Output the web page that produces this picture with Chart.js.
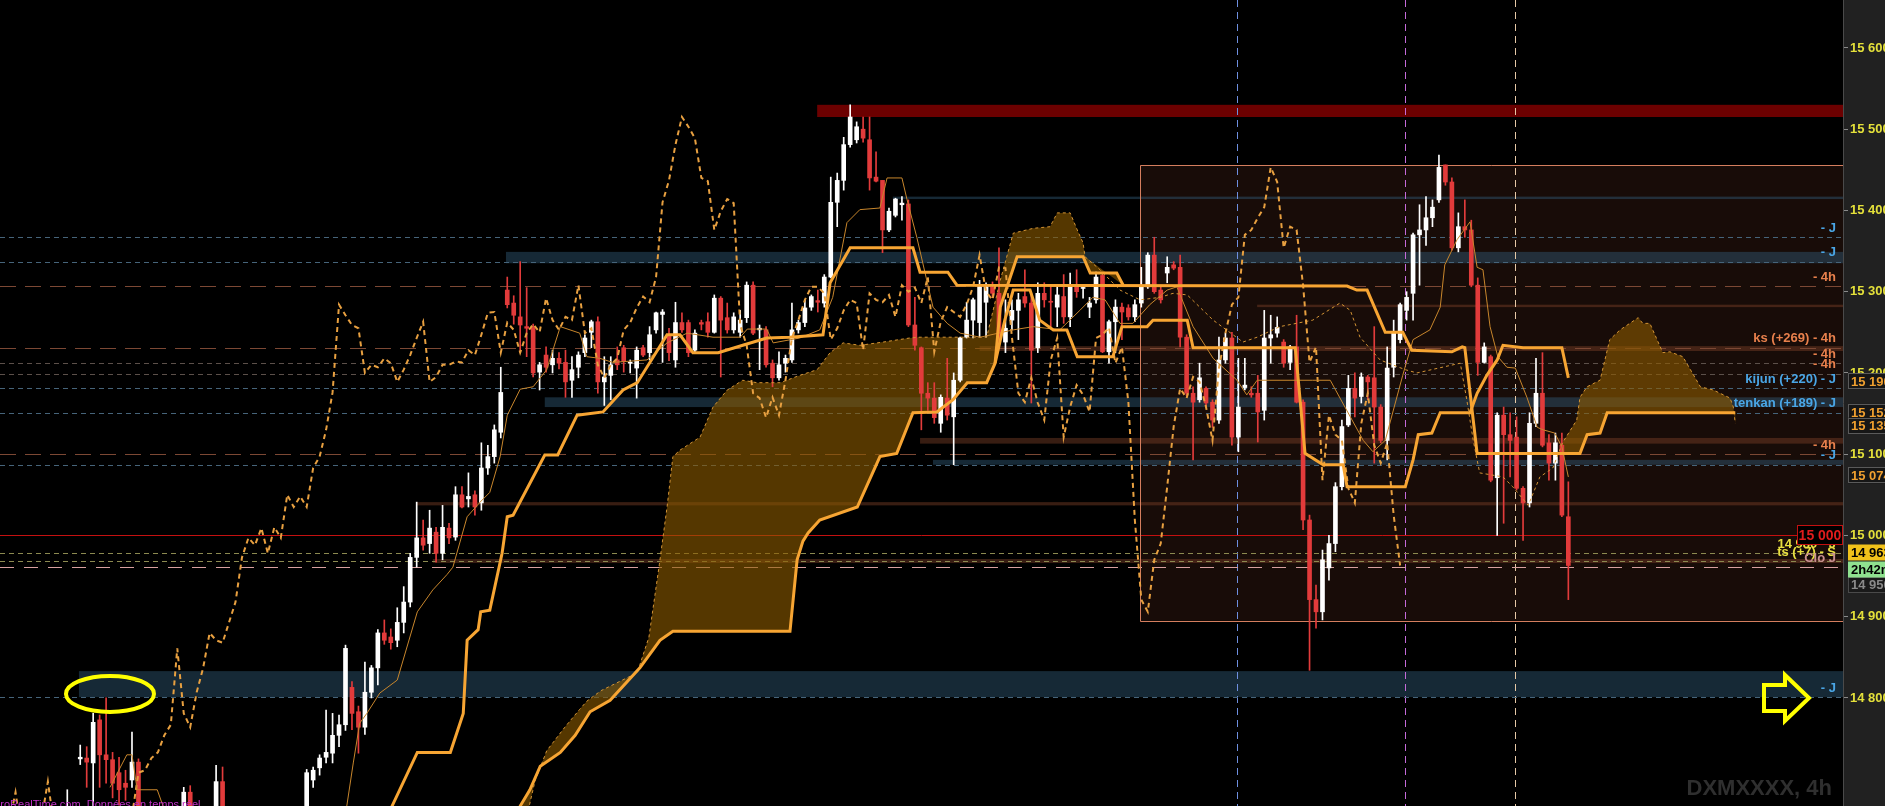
<!DOCTYPE html>
<html>
<head>
<meta charset="utf-8">
<title>DXMXXXX, 4h</title>
<script src="https://cdn.jsdelivr.net/npm/chart.js@4.4.1/dist/chart.umd.min.js"></script>
<style>
    html, body { margin: 0; padding: 0; background: #000; overflow: hidden; }
    #wrap { width: 1885px; height: 806px; }
</style>
</head>
<body>
<div id="wrap"><canvas id="chart" width="1885" height="806"></canvas></div>
<script>
// 4h candles, oldest first
const opens = [
    14620, 14630, 14645, 14625, 14640, 14655, 14640, 14650, 14662, 14725,
    14726, 14720, 14773, 14730, 14724, 14708, 14695, 14699, 14721, 14650,
    14620, 14600, 14625, 14640, 14630, 14645, 14684, 14630, 14610, 14635,
    14650, 14697, 14640, 14610, 14590, 14570, 14590, 14580, 14565, 14585,
    14600, 14615, 14630, 14645, 14655, 14699, 14714, 14727, 14732, 14754,
    14767, 14813, 14783, 14764, 14807, 14837, 14880, 14875, 14871, 14893,
    14918, 14973, 14997, 14990, 15004, 14978, 15009, 14998, 15050, 15045,
    15050, 15040, 15083, 15097, 15127, 15302, 15286, 15269, 15257, 15256,
    15201, 15222, 15210, 15218, 15213, 15191, 15207, 15225, 15250, 15263,
    15189, 15197, 15216, 15231, 15212, 15206, 15231, 15225, 15253, 15272,
    15245, 15216, 15262, 15262, 15228, 15262, 15263, 15250, 15292, 15268,
    15253, 15250, 15268, 15308, 15253, 15253, 15212, 15194, 15212, 15216,
    15253, 15262, 15281, 15289, 15286, 15318, 15410, 15437, 15481, 15487,
    15500, 15487, 15441, 15437, 15376, 15394, 15407, 15408, 15259, 15231,
    15175, 15169, 15138, 15169, 15146, 15191, 15244, 15265, 15262, 15287,
    15306, 15298, 15238, 15265, 15277, 15294, 15286, 15231, 15298, 15288,
    15281, 15294, 15269, 15308, 15304, 15281, 15290, 15320, 15226, 15263,
    15281, 15280, 15269, 15286, 15306, 15345, 15302, 15323, 15333, 15330,
    15244, 15175, 15167, 15181, 15164, 15142, 15216, 15243, 15121, 15182,
    15175, 15175, 15154, 15243, 15249, 15238, 15213, 15232, 15164, 15019,
    14921, 14906, 14960, 14990, 15060, 15136, 15181, 15171, 15195, 15194,
    15158, 15117, 15207, 15241, 15277, 15298, 15370, 15376, 15391, 15413,
    15456, 15435, 15354, 15380, 15376, 15308, 15213, 15220, 15071, 15148,
    15124, 15121, 15058, 15040, 15138, 15175, 15114, 15089, 15111, 15023
];
const highs = [
    14640, 14655, 14660, 14650, 14662, 14665, 14660, 14687, 14664, 14742,
    14740, 14781, 14779, 14800, 14733, 14727, 14711, 14758, 14725, 14662,
    14640, 14630, 14650, 14660, 14655, 14690, 14692, 14650, 14640, 14660,
    14717, 14715, 14655, 14630, 14610, 14600, 14615, 14600, 14590, 14610,
    14625, 14640, 14655, 14662, 14712, 14715, 14730, 14785, 14781, 14779,
    14865, 14820, 14790, 14844, 14840, 14884, 14896, 14885, 14911, 14937,
    14978, 15041, 15019, 15031, 15010, 15037, 15015, 15060, 15060, 15077,
    15055, 15114, 15111, 15136, 15207, 15318, 15295, 15337, 15305, 15260,
    15213, 15232, 15228, 15225, 15228, 15220, 15226, 15247, 15265, 15269,
    15220, 15220, 15232, 15234, 15216, 15232, 15234, 15257, 15275, 15278,
    15255, 15287, 15274, 15265, 15253, 15265, 15274, 15296, 15294, 15286,
    15274, 15277, 15312, 15312, 15259, 15257, 15216, 15226, 15222, 15286,
    15265, 15290, 15296, 15302, 15321, 15441, 15446, 15490, 15530, 15509,
    15515, 15515, 15472, 15437, 15403, 15415, 15417, 15413, 15293, 15232,
    15188, 15188, 15173, 15218, 15200, 15244, 15287, 15292, 15314, 15311,
    15312, 15354, 15290, 15290, 15298, 15327, 15298, 15311, 15311, 15306,
    15306, 15321, 15323, 15327, 15308, 15293, 15324, 15324, 15265, 15290,
    15286, 15284, 15290, 15330, 15348, 15367, 15306, 15343, 15337, 15345,
    15247, 15183, 15212, 15183, 15167, 15244, 15249, 15250, 15218, 15218,
    15183, 15197, 15277, 15271, 15269, 15241, 15234, 15271, 15167, 15025,
    14939, 14982, 15000, 15065, 15142, 15197, 15200, 15200, 15197, 15257,
    15161, 15232, 15265, 15286, 15300, 15372, 15407, 15417, 15413, 15468,
    15456, 15440, 15397, 15413, 15388, 15317, 15237, 15222, 15151, 15158,
    15151, 15146, 15060, 15151, 15218, 15225, 15124, 15126, 15126, 15066
];
const lows = [
    14600, 14615, 14620, 14605, 14628, 14630, 14625, 14640, 14640, 14718,
    14690, 14650, 14690, 14695, 14677, 14668, 14674, 14690, 14620, 14610,
    14590, 14580, 14610, 14620, 14615, 14635, 14620, 14600, 14595, 14625,
    14645, 14630, 14600, 14580, 14560, 14550, 14570, 14555, 14550, 14570,
    14585, 14600, 14615, 14630, 14650, 14690, 14705, 14720, 14720, 14740,
    14760, 14761, 14732, 14755, 14800, 14816, 14866, 14860, 14863, 14880,
    14912, 14961, 14982, 14978, 14967, 14970, 14990, 14994, 15034, 15035,
    15025, 15031, 15075, 15089, 15120, 15280, 15260, 15225, 15220, 15195,
    15179, 15201, 15200, 15205, 15170, 15170, 15194, 15220, 15231, 15175,
    15160, 15167, 15204, 15201, 15200, 15169, 15220, 15216, 15249, 15213,
    15215, 15207, 15250, 15220, 15225, 15253, 15244, 15249, 15195, 15249,
    15249, 15244, 15262, 15247, 15204, 15207, 15183, 15191, 15201, 15213,
    15249, 15257, 15277, 15275, 15281, 15317, 15380, 15425, 15478, 15483,
    15484, 15425, 15435, 15348, 15374, 15392, 15388, 15257, 15228, 15130,
    15154, 15138, 15127, 15142, 15087, 15189, 15243, 15243, 15244, 15244,
    15293, 15237, 15225, 15253, 15241, 15281, 15163, 15225, 15281, 15257,
    15257, 15261, 15257, 15293, 15292, 15268, 15286, 15225, 15212, 15225,
    15241, 15265, 15263, 15281, 15304, 15298, 15286, 15311, 15327, 15232,
    15172, 15093, 15164, 15158, 15133, 15138, 15212, 15111, 15103, 15179,
    15170, 15115, 15142, 15212, 15244, 15207, 15204, 15163, 15007, 14834,
    14886, 14896, 14945, 14980, 15056, 15134, 15146, 15163, 15167, 15089,
    15114, 15093, 15195, 15237, 15265, 15265, 15308, 15357, 15380, 15410,
    15431, 15351, 15349, 15367, 15306, 15197, 15212, 15066, 15000, 15015,
    15072, 15056, 14994, 15035, 15134, 15109, 15068, 15068, 15023, 14921
];
const closes = [
    14630, 14645, 14625, 14640, 14655, 14640, 14650, 14662, 14648, 14727,
    14721, 14770, 14730, 14724, 14695, 14687, 14690, 14721, 14650, 14620,
    14600, 14625, 14640, 14630, 14645, 14684, 14630, 14610, 14635, 14650,
    14697, 14640, 14610, 14590, 14570, 14590, 14580, 14565, 14585, 14600,
    14615, 14630, 14645, 14655, 14708, 14711, 14726, 14733, 14754, 14767,
    14861, 14781, 14764, 14807, 14837, 14880, 14871, 14868, 14893, 14918,
    14973, 14997, 14988, 15009, 14978, 15010, 14997, 15050, 15035, 15048,
    15035, 15083, 15097, 15130, 15176, 15284, 15271, 15259, 15255, 15200,
    15210, 15207, 15218, 15212, 15189, 15204, 15222, 15243, 15263, 15189,
    15195, 15210, 15210, 15214, 15213, 15228, 15222, 15247, 15274, 15275,
    15225, 15262, 15253, 15225, 15249, 15260, 15250, 15292, 15265, 15253,
    15269, 15265, 15308, 15249, 15255, 15210, 15194, 15210, 15218, 15253,
    15262, 15280, 15294, 15287, 15318, 15410, 15437, 15481, 15515, 15503,
    15489, 15440, 15436, 15376, 15399, 15414, 15409, 15259, 15234, 15175,
    15169, 15145, 15170, 15148, 15191, 15243, 15265, 15290, 15306, 15306,
    15298, 15241, 15255, 15277, 15290, 15286, 15228, 15298, 15290, 15287,
    15296, 15269, 15308, 15300, 15305, 15286, 15318, 15226, 15263, 15281,
    15275, 15269, 15284, 15306, 15345, 15300, 15290, 15330, 15329, 15244,
    15175, 15164, 15194, 15163, 15142, 15216, 15243, 15121, 15158, 15185,
    15173, 15152, 15243, 15247, 15256, 15212, 15232, 15164, 15019, 14921,
    14906, 14970, 14990, 15060, 15134, 15181, 15169, 15195, 15189, 15158,
    15117, 15206, 15249, 15284, 15293, 15370, 15376, 15391, 15404, 15453,
    15435, 15354, 15380, 15376, 15308, 15213, 15232, 15068, 15148, 15124,
    15117, 15058, 15040, 15138, 15175, 15111, 15089, 15114, 15025, 14963
];

// indicator lines as [bar, price] vertices
const tenkan = [
    [13.6, 14690], [16.2, 14730], [17.0, 14730], [17.8, 14687], [20.9, 14687], [21.8, 14667],
    [27.5, 14620], [43.0, 14610], [50.2, 14667], [51.2, 14720], [52.2, 14769], [53.3, 14781],
    [55.3, 14806], [58.0, 14822], [61.1, 14906], [63.5, 14933], [65.7, 14952], [66.6, 14961],
    [68.8, 15023], [70.8, 15041], [72.3, 15053], [73.9, 15097], [75.0, 15148], [77.0, 15180],
    [79.0, 15183], [81.1, 15204], [83.2, 15257], [84.7, 15253], [86.2, 15249], [87.3, 15220],
    [89.3, 15218], [91.3, 15213], [96.6, 15216], [99.7, 15237], [102.8, 15249], [106.8, 15244],
    [111.0, 15244], [112.1, 15254], [115.1, 15254], [116.1, 15237], [120.2, 15243], [123.3, 15253],
    [125.3, 15293], [127.5, 15385], [129.5, 15401], [132.6, 15403], [133.7, 15440], [136.0, 15440],
    [136.8, 15413], [138.3, 15367], [140.8, 15281], [143.0, 15261], [145.0, 15249], [148.1, 15244],
    [153.2, 15253], [156.3, 15257], [160.4, 15253], [163.5, 15277], [165.5, 15293], [167.4, 15290],
    [169.7, 15261], [171.7, 15261], [174.3, 15284], [177.0, 15302], [178.5, 15306], [181.0, 15257],
    [184.1, 15218], [187.8, 15191], [189.3, 15173], [190.9, 15191], [199.5, 15191], [202.2, 15191],
    [207.3, 15117], [208.8, 15103], [210.7, 15117], [213.4, 15197], [215.0, 15241], [217.6, 15253],
    [219.2, 15281], [219.9, 15333], [221.8, 15364], [223.8, 15386], [224.9, 15330], [225.8, 15327],
    [226.9, 15257], [228.1, 15220], [229.5, 15207], [230.8, 15206], [232.6, 15170], [234.2, 15133],
    [235.1, 15130], [236.9, 15126], [238.0, 15109], [239.0, 15072]
];
const kijun = [
    [75.4, 14620], [77.0, 14667], [78.5, 14687], [80.1, 14716], [83.2, 14733], [85.5, 14754],
    [87.8, 14783], [90.9, 14797], [95.5, 14837], [98.6, 14871], [100.6, 14882], [118.7, 14882],
    [119.8, 14970], [120.7, 14993], [121.5, 15003], [123.3, 15019], [129.1, 15035], [132.6, 15097],
    [135.2, 15101], [137.7, 15151], [141.4, 15152], [143.9, 15167], [146.1, 15188], [149.1, 15188],
    [150.4, 15212], [151.9, 15265], [153.2, 15302], [155.8, 15302], [157.3, 15265], [159.4, 15253],
    [161.5, 15253], [163.1, 15220], [168.6, 15220], [170.0, 15257], [173.9, 15257], [174.8, 15265],
    [180.1, 15265], [181.0, 15231], [196.8, 15231], [198.3, 15101], [201.1, 15087], [204.2, 15087],
    [204.8, 15060], [213.8, 15060], [215.0, 15093], [215.8, 15124], [217.9, 15126], [219.2, 15151],
    [223.8, 15151], [224.9, 15175], [226.4, 15197], [228.0, 15216], [228.9, 15234], [232.0, 15231],
    [238.0, 15231], [239.0, 15194]
];
const kijunLead = [
    [150.4, 15212], [151.2, 15281], [153.8, 15343], [164.0, 15343], [165.1, 15323], [169.2, 15323],
    [170.2, 15308]
];
const senkouB = [
    [55.3, 14630], [57.2, 14667], [61.1, 14733], [66.2, 14733], [68.2, 14781], [68.8, 14871],
    [70.5, 14884], [70.9, 14906], [72.3, 14908], [74.2, 14978], [75.0, 15023], [75.9, 15025],
    [80.8, 15099], [82.8, 15099], [85.8, 15148], [89.8, 15152], [92.9, 15179], [95.1, 15188],
    [99.7, 15247], [101.7, 15247], [103.7, 15225], [107.6, 15225], [111.4, 15234], [115.1, 15243],
    [118.7, 15244], [123.8, 15247], [124.9, 15311], [128.0, 15354], [137.7, 15354], [138.8, 15324],
    [143.1, 15324], [144.5, 15308], [204.8, 15307], [206.3, 15302], [207.9, 15302], [210.7, 15250],
    [213.4, 15250], [214.8, 15228], [221.0, 15226], [222.6, 15232], [223.0, 15231], [224.9, 15101],
    [240.8, 15101], [241.9, 15124], [243.9, 15126], [245.0, 15151], [264.8, 15151]
];
const spanA = [
    [76.2, 14620], [78.4, 14667], [79.3, 14698], [81.1, 14735], [83.9, 14764], [86.2, 14786],
    [87.3, 14796], [89.5, 14809], [95.1, 14831], [96.9, 14875], [98.5, 14964], [99.7, 15035],
    [100.6, 15097], [101.7, 15105], [104.8, 15121], [106.8, 15158], [109.0, 15179], [111.4, 15191],
    [113.6, 15188], [117.2, 15188], [120.2, 15197], [122.9, 15204], [124.9, 15225], [126.9, 15237],
    [129.5, 15234], [133.1, 15238], [137.2, 15243], [138.8, 15244], [149.1, 15244], [151.2, 15314],
    [153.2, 15372], [156.3, 15378], [158.9, 15380], [160.0, 15397], [162.0, 15397], [163.1, 15376],
    [164.0, 15360], [164.3, 15343], [166.6, 15327], [169.7, 15302], [172.8, 15290], [175.9, 15293],
    [177.9, 15298], [180.1, 15296], [184.1, 15265], [188.7, 15238], [190.9, 15244], [194.4, 15257],
    [199.5, 15265], [203.7, 15286], [205.3, 15277], [206.8, 15244], [209.9, 15216], [213.8, 15204],
    [215.6, 15200], [222.3, 15212], [223.3, 15167], [224.3, 15117], [225.3, 15077], [228.9, 15072],
    [230.4, 15060], [232.8, 15037], [234.6, 15072], [236.6, 15083], [238.1, 15114], [240.3, 15142],
    [240.8, 15170], [241.9, 15183], [243.9, 15191], [245.4, 15241], [247.0, 15253], [249.8, 15268],
    [250.5, 15261], [251.6, 15261], [253.6, 15225], [254.7, 15226], [256.7, 15220], [259.4, 15183],
    [261.4, 15179], [264.0, 15169], [264.5, 15158], [264.8, 15138]
];
const CHIKOU_SHIFT = 26;

// price axis
const tickValues = [14800, 14900, 15000, 15100, 15200, 15300, 15400, 15500, 15600];

// horizontal levels drawn across the chart
const levelPrice = [15367, 15337, 15307, 15231, 15212, 15199, 15181, 15151, 15100, 15087, 14978, 14968, 14961, 14801];
const levelKind = ['J', 'J', '4h', '4h', '4hs', '4hs', 'J', 'J', '4h', 'J', 'Y', 'Y', 'C', 'J'];
const levelText = ['- J', '- J', '- 4h', 'ks (+269) - 4h', '- 4h', '- 4h', 'kijun (+220) - J',
    'tenkan (+189) - J', '- 4h', '- J', '14 980 - J', 'ts (+7) - S', 'Clo J', '- J'];

// shaded zones [low, high] starting at a bar and running to the right edge
const zoneLow = [15515, 15414, 15335, 15281, 15227, 15158, 15113, 15087, 15037, 14966, 14801];
const zoneHigh = [15530, 15417, 15349, 15284, 15233, 15170, 15120, 15093, 15041, 14971, 14833];
const zoneFrom = [122.9, 134.6, 74.8, 190.9, 148, 80.8, 138.8, 140.8, 61, 63.5, 8.8];
const zoneKind = ['red', 'teal', 'teal', 'brown', 'brown', 'teal', 'brown', 'teal', 'brown', 'brown', 'teal'];

const rangeBox = { from: 172.8, low: 14895, high: 15456 };
const roundLevel = 15000;
const sessionBreaks = [187.8, 213.8, 230.8];
const axisTags = [15190, 15152, 15135, 15074];
const circled = { bar: 13.6, price: 14805 };
const arrowPrice = 14800;

const FONT = '"Liberation Sans", Arial, sans-serif';
const fmt = v => {
    const s = String(Math.round(v));
    return s.slice(0, -3) + ' ' + s.slice(-3);
};

const zoneColors = { red: '#6c0000', teal: 'rgba(52, 98, 128, 0.42)', brown: 'rgba(125, 64, 40, 0.45)' };
const levelStyles = {
    'J':   { color: '#46647a', dash: [5, 4] },
    '4h':  { color: '#7c4834', dash: [16, 9] },
    '4hs': { color: '#5c504a', dash: [5, 4] },
    'Y':   { color: '#8c8a50', dash: [5, 4] },
    'C':   { color: '#d8a0a0', dash: [14, 10] }
};
const labelColors = { 'J': '#4aa6e6', '4h': '#e8804c', '4hs': '#e8804c', 'Y': '#e8e040', 'C': '#c89090' };

function cloudShapes() {
    const top1 = spanA.filter(p => p[0] <= 164.3);
    const low1 = kijun.filter(p => p[0] <= 150.4).concat(kijunLead);
    const top2 = spanA.filter(p => p[0] >= 238.1);
    const low2 = [[238.1, 15101]].concat(senkouB.filter(p => p[0] >= 240.8));
    return [top1.concat(low1.slice().reverse()), top2.concat(low2.slice().reverse())];
}

const backdrop = {
    id: 'backdrop',
    beforeDraw(chart) {
        const { ctx, chartArea: a, width, height } = chart;
        ctx.save();
        ctx.fillStyle = '#000';
        ctx.fillRect(0, 0, width, height);
        ctx.fillStyle = '#212121';
        ctx.fillRect(a.right, 0, width - a.right, height);
        ctx.restore();
    }
};

const underlay = {
    id: 'underlay',
    beforeDatasetsDraw(chart) {
        const { ctx, chartArea: a } = chart;
        const xs = chart.scales.x, ys = chart.scales.y;
        const crisp = v => Math.round(v) + 0.5;
        ctx.save();
        ctx.beginPath();
        ctx.rect(a.left, a.top, a.right - a.left, a.bottom - a.top);
        ctx.clip();

        // watermark
        ctx.font = 'bold 22px ' + FONT;
        ctx.fillStyle = '#2f2f2f';
        ctx.textAlign = 'right';
        ctx.textBaseline = 'alphabetic';
        ctx.fillText('DXMXXXX, 4h', a.right - 11, 795);

        // range box fill
        const bx = xs.getPixelForValue(rangeBox.from);
        const bTop = ys.getPixelForValue(rangeBox.high), bBot = ys.getPixelForValue(rangeBox.low);
        ctx.fillStyle = 'rgba(120, 62, 40, 0.2)';
        ctx.fillRect(bx, bTop, a.right - bx, bBot - bTop);

        // zones
        zoneLow.forEach((lo, i) => {
            const x0 = xs.getPixelForValue(zoneFrom[i]);
            const y0 = ys.getPixelForValue(zoneHigh[i]), y1 = ys.getPixelForValue(lo);
            ctx.fillStyle = zoneColors[zoneKind[i]];
            ctx.fillRect(x0, y0, a.right - x0, Math.max(2, y1 - y0));
        });

        // session separators
        const sepColors = ['#6f8fe0', '#c46ad8', '#e6c8a6'];
        ctx.lineWidth = 1;
        sessionBreaks.forEach((b, i) => {
            const x = crisp(xs.getPixelForValue(b));
            ctx.strokeStyle = sepColors[i];
            ctx.setLineDash([7, 5]);
            ctx.beginPath();
            ctx.moveTo(x, a.top);
            ctx.lineTo(x, a.bottom);
            ctx.stroke();
        });

        // levels
        levelPrice.forEach((p, i) => {
            const st = levelStyles[levelKind[i]];
            const y = crisp(ys.getPixelForValue(p));
            ctx.strokeStyle = st.color;
            ctx.setLineDash(st.dash);
            ctx.beginPath();
            ctx.moveTo(a.left, y);
            ctx.lineTo(a.right, y);
            ctx.stroke();
        });
        ctx.setLineDash([]);
        const ry = crisp(ys.getPixelForValue(roundLevel));
        ctx.strokeStyle = '#c41010';
        ctx.beginPath();
        ctx.moveTo(a.left, ry);
        ctx.lineTo(a.right, ry);
        ctx.stroke();

        // range box outline
        ctx.strokeStyle = '#d47e5e';
        ctx.beginPath();
        ctx.moveTo(a.right, crisp(bTop));
        ctx.lineTo(crisp(bx), crisp(bTop));
        ctx.lineTo(crisp(bx), crisp(bBot));
        ctx.lineTo(a.right, crisp(bBot));
        ctx.stroke();

        // ichimoku cloud
        ctx.fillStyle = 'rgba(142, 92, 0, 0.6)';
        cloudShapes().forEach(shape => {
            ctx.beginPath();
            shape.forEach((pt, k) => {
                const x = xs.getPixelForValue(pt[0]), y = ys.getPixelForValue(pt[1]);
                if (k === 0) ctx.moveTo(x, y); else ctx.lineTo(x, y);
            });
            ctx.closePath();
            ctx.fill();
        });
        ctx.restore();
    }
};

const overlay = {
    id: 'overlay',
    afterDatasetsDraw(chart) {
        const { ctx, chartArea: a } = chart;
        const xs = chart.scales.x, ys = chart.scales.y;
        ctx.save();
        ctx.beginPath();
        ctx.rect(a.left, a.top, a.right - a.left, a.bottom - a.top);
        ctx.clip();

        // level captions
        ctx.font = 'bold 13px ' + FONT;
        ctx.textAlign = 'right';
        ctx.textBaseline = 'middle';
        levelPrice.forEach((p, i) => {
            ctx.fillStyle = labelColors[levelKind[i]];
            ctx.fillText(levelText[i], a.right - 7, ys.getPixelForValue(p) - 9);
        });

        // round number tag
        const ry = ys.getPixelForValue(roundLevel);
        ctx.fillStyle = '#000';
        ctx.fillRect(a.right - 46, ry - 9.5, 46, 19);
        ctx.strokeStyle = '#c41010';
        ctx.lineWidth = 1;
        ctx.strokeRect(a.right - 45.5, Math.round(ry) - 9.5, 45, 19);
        ctx.font = 'bold 14px ' + FONT;
        ctx.fillStyle = '#e01c1c';
        ctx.textAlign = 'center';
        ctx.fillText(fmt(roundLevel), a.right - 23, ry + 1);

        // circled high
        ctx.strokeStyle = '#ffff00';
        ctx.lineWidth = 4;
        ctx.beginPath();
        ctx.ellipse(xs.getPixelForValue(circled.bar), ys.getPixelForValue(circled.price), 44, 18, 0, 0, Math.PI * 2);
        ctx.stroke();

        // arrow pointing at the level
        const tx = a.right - 34, ty = ys.getPixelForValue(arrowPrice);
        ctx.lineJoin = 'miter';
        ctx.beginPath();
        ctx.moveTo(tx - 45, ty - 13);
        ctx.lineTo(tx - 24, ty - 13);
        ctx.lineTo(tx - 24, ty - 23);
        ctx.lineTo(tx, ty);
        ctx.lineTo(tx - 24, ty + 23);
        ctx.lineTo(tx - 24, ty + 13);
        ctx.lineTo(tx - 45, ty + 13);
        ctx.closePath();
        ctx.stroke();

        // data vendor caption, half cut by the bottom edge
        ctx.font = '11px ' + FONT;
        ctx.fillStyle = '#c030c8';
        ctx.textAlign = 'left';
        ctx.textBaseline = 'alphabetic';
        ctx.fillText('ProRealTime.com. Données en temps réel', -7, 808);
        ctx.restore();
    },
    afterDraw(chart) {
        const { ctx, chartArea: a, width } = chart;
        const ys = chart.scales.y;
        const tag = (y, text, bg, border, color) => {
            ctx.fillStyle = bg;
            ctx.fillRect(a.right + 5, y - 8, width - a.right - 5, 16);
            if (border) {
                ctx.strokeStyle = border;
                ctx.lineWidth = 1;
                ctx.strokeRect(a.right + 5.5, Math.round(y) - 7.5, width - a.right, 15);
            }
            ctx.fillStyle = color;
            ctx.fillText(text, a.right + 8, y + 1);
        };
        ctx.save();
        ctx.font = 'bold 13px ' + FONT;
        ctx.textAlign = 'left';
        ctx.textBaseline = 'middle';
        axisTags.forEach(p => tag(ys.getPixelForValue(p), fmt(p), '#161616', '#5a5a5a', '#f0a030'));
        const last = closes[closes.length - 1];
        const ly = ys.getPixelForValue(last);
        tag(ly + 19, fmt(last - 13), '#1a1a1a', '#4a4a4a', '#8a8a8a');
        tag(ly + 4, '2h42m', '#8fe28f', null, '#000');
        tag(ly - 13, fmt(last), '#f2c21a', null, '#000');
        ctx.restore();
    }
};

const upColor = '#ffffff';
const downColor = '#e23b3b';
const candleColors = closes.map((c, i) => (c >= opens[i] ? upColor : downColor));
const asPoints = arr => arr.map(p => ({ x: p[0], y: p[1] }));

new Chart(document.getElementById('chart'), {
    type: 'bar',
    data: {
        datasets: [
            {
                type: 'line', label: 'kijun', data: asPoints(kijun), order: 1,
                borderColor: '#f7a533', borderWidth: 3, pointRadius: 0, tension: 0
            },
            {
                type: 'line', label: 'kijun lead', data: asPoints(kijunLead), order: 1,
                borderColor: '#f7a533', borderWidth: 3, pointRadius: 0, tension: 0
            },
            {
                type: 'line', label: 'senkou B', data: asPoints(senkouB), order: 1,
                borderColor: '#f7a533', borderWidth: 3, pointRadius: 0, tension: 0
            },
            {
                type: 'line', label: 'tenkan', data: asPoints(tenkan), order: 2,
                borderColor: '#c8862c', borderWidth: 1, pointRadius: 0, tension: 0
            },
            {
                type: 'line', label: 'chikou', order: 3,
                data: closes.map((c, i) => ({ x: i - CHIKOU_SHIFT, y: c })),
                borderColor: '#e8a040', borderWidth: 2, borderDash: [5, 4], pointRadius: 0, tension: 0
            },
            {
                type: 'line', label: 'senkou A', data: asPoints(spanA), order: 4,
                borderColor: '#d49434', borderWidth: 1, borderDash: [3, 3], pointRadius: 0, tension: 0
            },
            {
                type: 'bar', label: 'bodies', order: 5, grouped: false,
                data: opens.map((o, i) => ({ x: i, y: [o, closes[i]] })),
                backgroundColor: candleColors, barThickness: 4, minBarLength: 1, borderWidth: 0
            },
            {
                type: 'bar', label: 'wicks', order: 6, grouped: false,
                data: lows.map((l, i) => ({ x: i, y: [l, highs[i]] })),
                backgroundColor: candleColors, barThickness: 1, borderWidth: 0
            }
        ]
    },
    options: {
        responsive: false,
        animation: false,
        events: [],
        layout: { padding: 0 },
        plugins: { legend: { display: false }, tooltip: { enabled: false } },
        scales: {
            x: {
                type: 'linear', min: -3.4, max: 281.45, offset: false, display: false,
                grid: { display: false, offset: false }
            },
            y: {
                type: 'linear', position: 'right', min: 14667, max: 15659,
                border: { display: true, color: '#4a4a4a' },
                grid: { drawOnChartArea: false, drawTicks: true, tickLength: 5, color: '#8a8a8a' },
                ticks: {
                    padding: 2, color: '#e4e03a',
                    font: { family: FONT, weight: 'bold', size: 13 },
                    callback: v => fmt(v)
                },
                afterBuildTicks(scale) {
                    scale.ticks = tickValues.map(v => ({ value: v }));
                },
                afterFit(scale) {
                    scale.width = 42;
                    scale.paddingTop = 0;
                    scale.paddingBottom = 0;
                }
            }
        }
    },
    plugins: [backdrop, underlay, overlay]
});
</script>
</body>
</html>
